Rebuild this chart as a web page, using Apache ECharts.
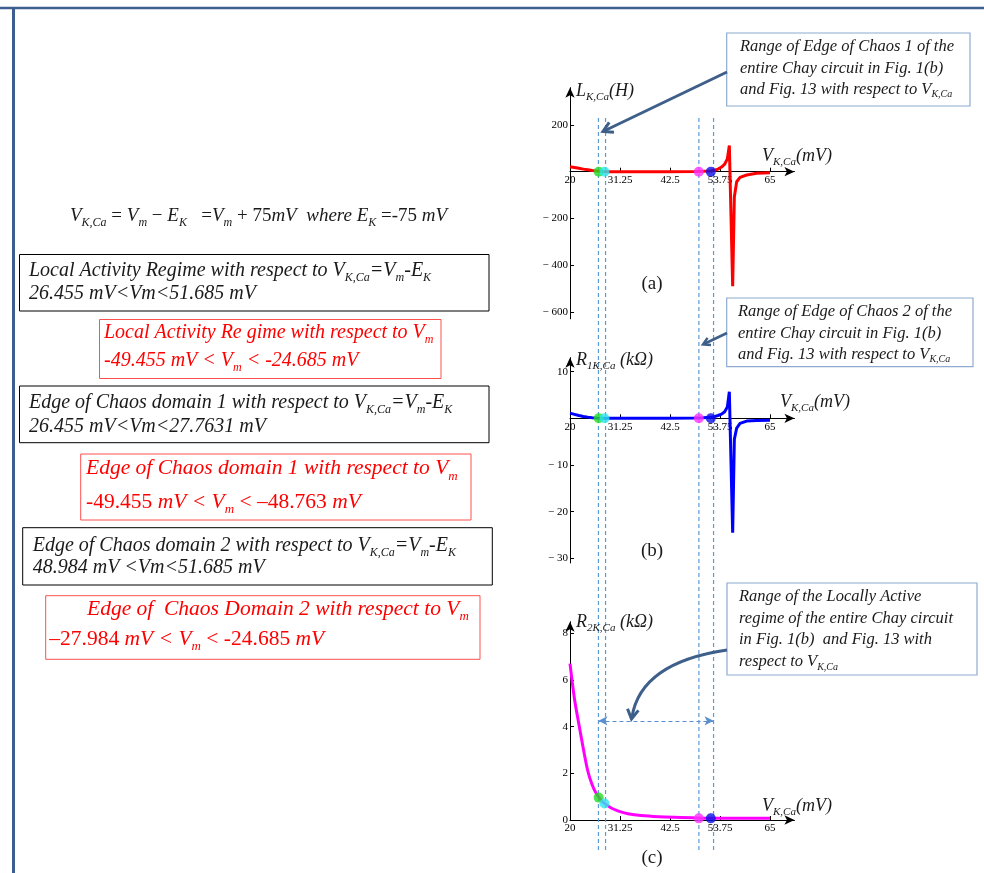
<!DOCTYPE html>
<html><head><meta charset="utf-8">
<script src="https://cdn.jsdelivr.net/npm/echarts@6/dist/echarts.min.js"></script>
<style>html,body{margin:0;padding:0;background:#fff}#c{width:984px;height:873px}</style>
</head><body><div id="c"></div>
<script>
// ---- data ----
const xTicks = [20, 31.25, 42.5, 53.75, 65];
const abX = [20, 21, 22, 23, 24, 25, 26, 27, 28, 35, 42, 48, 50, 51.7, 52.5, 53.3, 54.1, 54.8, 55.4, 55.85, 56.6, 56.98, 57.5, 58.25, 59.75, 62, 65];
const aY  = [21, 18, 15, 11, 8, 5, 3, 1, 0, 0, 0, 0.5, 1.5, 3, 6, 11, 20, 32, 55, 112, -490, -107, -43, -24, -14, -7, -4];
const bY  = [1.1, 0.85, 0.6, 0.4, 0.25, 0.12, 0.05, 0, 0, 0, 0, 0.05, 0.1, 0.2, 0.35, 0.6, 0.9, 1.4, 2.4, 5.7, -24.5, -4.5, -2.1, -1.1, -0.6, -0.45, -0.4];
const cX  = [20, 21, 22, 23, 24, 25, 26, 27, 28, 29, 30, 31.25, 33, 36, 40, 45, 50, 55, 60, 65];
const cY  = [6.7, 5.2, 4.1, 3.05, 2.1, 1.5, 1.1, 0.85, 0.68, 0.55, 0.45, 0.36, 0.27, 0.19, 0.14, 0.11, 0.08, 0.07, 0.07, 0.07];
const markX = [26.455, 27.763, 48.984, 51.685];
const markA = [0, 0, 0, 0];
const markB = [0, 0, 0, 0];
const markC = [0.96, 0.71, 0.07, 0.07];
const markColors = ['#22dd22', '#2ee6ee', '#ff33ff', '#0a10e8'];
const aTicks = [-600, -400, -200, 200];
const bTicks = [-30, -20, -10, 10];
const cTicks = [0, 2, 4, 6, 8];
const dashX = [26.4, 28.0, 49.0, 52.3];
const rangeArrowY = 4.25;

// ---- layout ----
const FF = 'Liberation Serif';
const K = 200 / 45; // px per mV
const X0 = 570, XMAX = 70.5;
const GW = (XMAX - 20) * K;
const grids = [
  {left: X0, top: 171.7 - 360 * (46.7 / 200), width: GW, height: 990 * (46.7 / 200)},
  {left: X0, top: 418.3 - 13 * 4.667, width: GW, height: 44 * 4.667},
  {left: X0, top: 820 - 8.5 * 23.33, width: GW, height: 8.5 * 23.33}
];
const yRanges = [[-630, 360], [-31, 13], [0, 8.5]];
const yTickSets = [aTicks, bTicks, cTicks];

function fmtY(v) { return v < 0 ? '\u2212 ' + Math.abs(v) : String(v); }

const xAxes = grids.map((g, i) => ({
  type: 'value', gridIndex: i, min: 20, max: XMAX, position: 'bottom',
  // place the x axis on the zero line of its y axis
  offset: -g.height * (0 - yRanges[i][0]) / (yRanges[i][1] - yRanges[i][0]),
  axisLine: {onZero: false, lineStyle: {color: '#000', width: 1}, symbol: ['none', 'arrow'], symbolSize: [7, 10]},
  axisTick: {show: true, inside: true, length: 4, customValues: xTicks, lineStyle: {color: '#000'}},
  axisLabel: {customValues: xTicks, formatter: v => String(v), fontFamily: FF, fontSize: 11, color: '#000', margin: 3},
  splitLine: {show: false}
}));
const yAxes = grids.map((g, i) => ({
  type: 'value', gridIndex: i, min: yRanges[i][0], max: yRanges[i][1],
  axisLine: {show: true, onZero: false, lineStyle: {color: '#000', width: 1}, symbol: ['none', 'arrow'], symbolSize: [7, 10]},
  axisTick: {show: true, inside: true, length: 4, customValues: yTickSets[i], lineStyle: {color: '#000'}},
  axisLabel: {customValues: yTickSets[i], formatter: fmtY, fontFamily: FF, fontSize: 11, color: '#000', margin: 2},
  splitLine: {show: false}
}));

function pairs(xs, ys) { return xs.map((x, i) => [x, ys[i]]); }
function markSeries(i, ys) {
  return markX.map((x, j) => ({
    type: 'scatter', xAxisIndex: i, yAxisIndex: i, symbol: 'circle', symbolSize: 10, z: 5,
    itemStyle: {color: markColors[j]}, data: [[x, ys[j]]], silent: true
  }));
}

const series = [
  {type: 'line', xAxisIndex: 0, yAxisIndex: 0, data: pairs(abX, aY), showSymbol: false, lineStyle: {color: '#ff0000', width: 3}, z: 3, silent: true},
  {type: 'line', xAxisIndex: 1, yAxisIndex: 1, data: pairs(abX, bY), showSymbol: false, lineStyle: {color: '#0000ff', width: 3}, z: 3, silent: true},
  {type: 'line', xAxisIndex: 2, yAxisIndex: 2, data: pairs(cX, cY), showSymbol: false, smooth: 0.3, lineStyle: {color: '#ff00ff', width: 3}, z: 3, silent: true,
    markLine: {silent: true, symbol: ['arrow', 'arrow'], symbolSize: [7, 9], label: {show: false},
      lineStyle: {color: '#5b8fd0', type: [4, 3], width: 1.2},
      data: [[{coord: [dashX[0], rangeArrowY]}, {coord: [dashX[3], rangeArrowY]}]]}},
  ...markSeries(0, markA), ...markSeries(1, markB), ...markSeries(2, markC)
];

const chart = echarts.init(document.getElementById('c'), null, {renderer: 'canvas'});
chart.setOption({
  animation: false,
  backgroundColor: '#fff',
  grid: grids.map(g => Object.assign({outerBoundsMode: 'none', containLabel: false}, g)),
  xAxis: xAxes, yAxis: yAxes, series
});

// ---- annotations ----
function rich(F0, color) {
  const lh = Math.round(F0 * 1.3), sf = Math.round(F0 * 0.62);
  return {
    i: {fontSize: F0, fontFamily: FF, fontStyle: 'italic', fill: color, lineHeight: lh, verticalAlign: 'middle'},
    r: {fontSize: F0, fontFamily: FF, fontStyle: 'normal', fill: color, lineHeight: lh, verticalAlign: 'middle'},
    s: {fontSize: sf, fontFamily: FF, fontStyle: 'italic', fill: color, lineHeight: sf, verticalAlign: 'bottom'}
  };
}
function txt(x, y, s, size, color, align) {
  return {type: 'text', x: x, y: y, z: 20, silent: true,
    style: {text: s, rich: rich(size, color || '#111'), align: align || 'left', verticalAlign: 'middle', fill: color || '#111', fontFamily: FF, fontSize: size}};
}
function box(x, y, w, h, stroke, lw) {
  return {type: 'rect', z: 15, silent: true, shape: {x, y, width: w, height: h}, style: {fill: 'none', stroke, lineWidth: lw || 1}};
}
function line(x1, y1, x2, y2, stroke, lw, dash) {
  return {type: 'line', z: 15, silent: true, shape: {x1, y1, x2, y2}, style: {stroke, lineWidth: lw, lineDash: dash || null}};
}
function head(tx, ty, fx, fy, len, color, lw) {
  const a = Math.atan2(ty - fy, tx - fx), s = Math.PI / 6;
  return {type: 'polyline', z: 16, silent: true,
    shape: {points: [[tx - len * Math.cos(a - s), ty - len * Math.sin(a - s)], [tx, ty], [tx - len * Math.cos(a + s), ty - len * Math.sin(a + s)]]},
    style: {stroke: color, lineWidth: lw, fill: 'none'}};
}

const BLK = '#1a1a1a', RED = '#ff0000', RB = '#ff5050', CB = '#8eaad0', AR = '#3e5f8a';
const g = [];
// frame
g.push(line(0, 8, 984, 8, '#3d5f8f', 2.5));
g.push(line(13.5, 7, 13.5, 873, '#3d5f8f', 3));
// equation
g.push(txt(70, 216, '{i|V}{s|K,Ca}{r| = }{i|V}{s|m}{r| \u2212 }{i|E}{s|K}{r|   =}{i|V}{s|m}{r| + 75}{i|mV  where E}{s|K}{r| =-75 }{i|mV}', 19, BLK));
// black box 1
g.push(box(19.5, 254.5, 469.5, 56.5, '#000', 1));
g.push(txt(29, 271, '{i|Local Activity Regime with respect to V}{s|K,Ca}{i|=V}{s|m}{i|-E}{s|K}', 20, BLK));
g.push(txt(29, 293.5, '{i|26.455 mV<Vm<51.685 mV}', 20, BLK));
// red box 1
g.push(box(99.5, 319.5, 341.5, 59, RB, 1));
g.push(txt(104, 332.5, '{i|Local Activity Re gime with respect to V}{s|m}', 20, RED));
g.push(txt(104, 361, '{i|-49.455 mV < V}{s|m}{i| < -24.685 mV}', 20, RED));
// black box 2
g.push(box(19.5, 386, 469.5, 56.7, '#000', 1));
g.push(txt(29, 403.2, '{i|Edge of Chaos domain 1 with respect to V}{s|K,Ca}{i|=V}{s|m}{i|-E}{s|K}', 20, BLK));
g.push(txt(29, 426.5, '{i|26.455 mV<Vm<27.7631 mV}', 20, BLK));
// red box 2
g.push(box(80.7, 454, 390.3, 66, RB, 1));
g.push(txt(86, 468.7, '{i|Edge of Chaos domain 1 with respect to V}{s|m}', 21.5, RED));
g.push(txt(86, 502, '{r|-49.455 }{i|mV < V}{s|m}{r| < \u201348.763 }{i|mV}', 21.5, RED));
// black box 3
g.push(box(22.7, 527.7, 469.6, 57.3, '#000', 1));
g.push(txt(32.7, 546, '{i|Edge of Chaos domain 2 with respect to V}{s|K,Ca}{i|=V}{s|m}{i|-E}{s|K}', 20, BLK));
g.push(txt(32.7, 568.2, '{i|48.984 mV <Vm<51.685 mV}', 20, BLK));
// red box 3
g.push(box(45.7, 595.7, 434.3, 63.6, RB, 1));
g.push(txt(87, 609.4, '{i|Edge of  Chaos Domain 2 with respect to V}{s|m}', 21.5, RED));
g.push(txt(49.3, 639.4, '{r|\u201327.984 }{i|mV < V}{s|m}{r| < -24.685 }{i|mV}', 21.5, RED));

// callouts
g.push(box(726.7, 33, 243.3, 73, CB, 1.2));
g.push(txt(740, 46.7, '{i|Range of Edge of Chaos 1 of the}', 16.5, BLK));
g.push(txt(740, 68.3, '{i|entire Chay circuit in Fig. 1(b)}', 16.5, BLK));
g.push(txt(740, 89.3, '{i|and Fig. 13 with respect to V}{s|K,Ca}', 16.5, BLK));
g.push(box(726.7, 298, 246.3, 68.7, CB, 1.2));
g.push(txt(738, 311.7, '{i|Range of Edge of Chaos 2 of the}', 16.5, BLK));
g.push(txt(738, 333.3, '{i|entire Chay circuit in Fig. 1(b)}', 16.5, BLK));
g.push(txt(738, 354.3, '{i|and Fig. 13 with respect to V}{s|K,Ca}', 16.5, BLK));
g.push(box(727, 583, 250, 92, CB, 1.2));
g.push(txt(739, 596.7, '{i|Range of the Locally Active}', 16.5, BLK));
g.push(txt(739, 618.3, '{i|regime of the entire Chay circuit}', 16.5, BLK));
g.push(txt(739, 640, '{i|in Fig. 1(b)  and Fig. 13 with}', 16.5, BLK));
g.push(txt(739, 661.7, '{i|respect to V}{s|K,Ca}', 16.5, BLK));

// arrows
g.push(line(727, 72, 604, 131, AR, 3));
g.push(head(603, 131.5, 727, 72, 11, AR, 3));
g.push(line(727, 333, 704, 344, AR, 2.5));
g.push(head(703, 344.5, 727, 333, 8, AR, 2.5));
g.push({type: 'bezierCurve', z: 15, silent: true, shape: {x1: 727, y1: 650, cpx1: 672, cpy1: 658, cpx2: 638, cpy2: 680, x2: 632, y2: 717}, style: {stroke: AR, lineWidth: 3, fill: 'none'}});
g.push(head(631.5, 719, 636, 690, 11, AR, 3));

// axis names
g.push(txt(576, 91, '{i|L}{s|K,Ca}{i|(H)}', 18, BLK));
g.push(txt(762, 156, '{i|V}{s|K,Ca}{i|(mV)}', 18, BLK));
g.push(txt(576, 360.5, '{i|R}{s|1K,Ca}{i| (k\u03A9)}', 18, BLK));
g.push(txt(780, 402, '{i|V}{s|K,Ca}{i|(mV)}', 18, BLK));
g.push(txt(576, 622, '{i|R}{s|2K,Ca}{i| (k\u03A9)}', 18, BLK));
g.push(txt(762, 806, '{i|V}{s|K,Ca}{i|(mV)}', 18, BLK));
// panel labels
g.push(txt(652, 284, '{r|(a)}', 19, BLK, 'center'));
g.push(txt(652, 551, '{r|(b)}', 19, BLK, 'center'));
g.push(txt(652, 858, '{r|(c)}', 19, BLK, 'center'));

// dashed vertical guides from data x positions
dashX.forEach(v => {
  const px = chart.convertToPixel({xAxisIndex: 0}, v);
  g.push({type: 'line', z: 1, silent: true, shape: {x1: px, y1: 118, x2: px, y2: 853}, style: {stroke: '#5b9bd5', lineWidth: 1.2, lineDash: [4, 3]}});
});

chart.setOption({graphic: {elements: g}});
</script>
</body></html>
